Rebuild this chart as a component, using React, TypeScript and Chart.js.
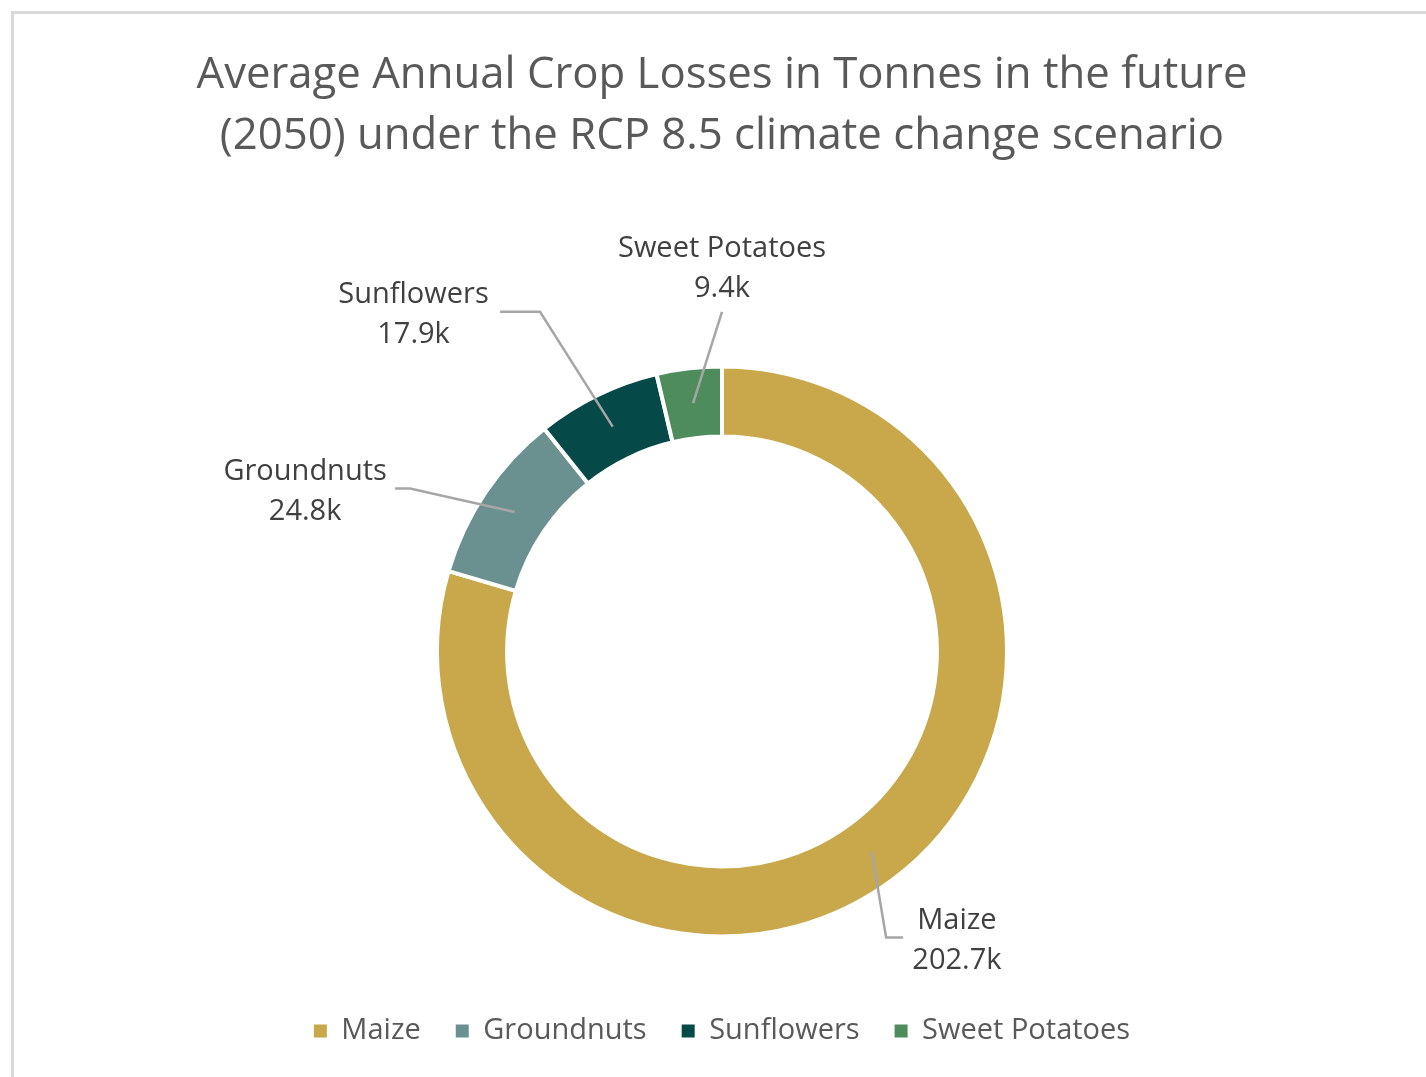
import React, { useEffect, useRef } from "react";
import { Chart, registerables } from "chart.js";

Chart.register(...registerables);

// ---- data ----
const categories = ["Maize", "Groundnuts", "Sunflowers", "Sweet Potatoes"];
const lossesK = [202.7, 24.8, 17.9, 9.4];
const valueLabels = ["202.7k", "24.8k", "17.9k", "9.4k"];
const sliceColors = ["#C8A84B", "#6A9190", "#054A49", "#4E8C5B"];
const titleLines = [
  "Average Annual Crop Losses in Tonnes in the future",
  "(2050) under the RCP 8.5 climate change scenario",
];

const FONT = "'Open Sans', 'Noto Sans', sans-serif";

// callout geometry, in units of the visible outer radius, relative to the doughnut centre
const callouts = [
  { elbow: [0.58, 1.011], tailX: 0.64, text: [0.83, 1.014] },
  { elbow: [-1.102, -0.576], tailX: -1.155, text: [-1.473, -0.572] },
  { elbow: [-0.643, -1.2], tailX: -0.784, text: [-1.09, -1.198] },
  { elbow: [0.0, -1.2], tailX: null, text: [0.0, -1.36] },
];

const BORDER = 4;

const calloutPlugin = {
  id: "callouts",
  afterDatasetsDraw(chart: any) {
    const meta = chart.getDatasetMeta(0);
    const ctx = chart.ctx;
    ctx.save();
    meta.data.forEach((arc: any, i: number) => {
      const p = arc.getProps(
        ["x", "y", "startAngle", "endAngle", "innerRadius", "outerRadius"],
        true
      );
      const mid = (p.startAngle + p.endAngle) / 2;
      const rm = (p.innerRadius + p.outerRadius) / 2;
      const sx = p.x + Math.cos(mid) * rm;
      const sy = p.y + Math.sin(mid) * rm;
      const R = p.outerRadius - BORDER / 2;
      const c = callouts[i];
      const ex = p.x + c.elbow[0] * R;
      const ey = p.y + c.elbow[1] * R;
      ctx.strokeStyle = "#A6A6A6";
      ctx.lineWidth = 2.5;
      ctx.lineJoin = "miter";
      ctx.beginPath();
      ctx.moveTo(sx, sy);
      ctx.lineTo(ex, ey);
      if (c.tailX !== null) ctx.lineTo(p.x + c.tailX * R, ey);
      ctx.stroke();

      const tx = p.x + c.text[0] * R;
      const ty = p.y + c.text[1] * R + 2.5;
      ctx.fillStyle = "#404040";
      ctx.font = `29px ${FONT}`;
      ctx.textAlign = "center";
      ctx.textBaseline = "middle";
      ctx.fillText(categories[i], tx, ty - 20);
      ctx.fillText(valueLabels[i], tx, ty + 20);
    });
    ctx.restore();
  },
};

export default function App() {
  const canvasRef = useRef<HTMLCanvasElement | null>(null);

  useEffect(() => {
    if (!canvasRef.current) return;
    const defaultLabels = (Chart as any).overrides.doughnut.plugins.legend.labels.generateLabels;
    const chart = new Chart(canvasRef.current, {
      type: "doughnut",
      data: {
        labels: categories,
        datasets: [
          {
            data: lossesK,
            backgroundColor: sliceColors,
            borderColor: "#FFFFFF",
            borderWidth: BORDER,
            radius: 285,
            cutout: "75.4%",
          },
        ],
      },
      options: {
        responsive: false,
        animation: false,
        devicePixelRatio: 1,
        layout: { padding: { top: 0, bottom: 21.5, left: 0, right: 0 } },
        plugins: {
          tooltip: { enabled: false },
          title: {
            display: true,
            text: titleLines,
            color: "#595959",
            font: { family: FONT, size: 43.7, weight: "normal", lineHeight: 1.395 },
            padding: { top: 45.5, bottom: 154 },
          },
          legend: {
            display: true,
            position: "bottom",
            labels: {
              boxWidth: 13,
              boxHeight: 13,
              padding: 35,
              color: "#595959",
              font: { family: FONT, size: 29 },
              generateLabels: (ch: any) =>
                defaultLabels(ch).map((l: any) => ({ ...l, lineWidth: 0, strokeStyle: "transparent" })),
            },
          },
        },
      },
      plugins: [calloutPlugin],
    });
    return () => chart.destroy();
  }, []);

  return (
    <div
      style={{
        position: "fixed",
        left: 0,
        top: 0,
        width: 1426,
        height: 1077,
        overflow: "hidden",
        background: "#FFFFFF",
      }}
    >
      <div
        style={{
          position: "absolute",
          left: 11,
          top: 11,
          width: 1500,
          height: 1200,
          border: "3px solid #D9D9D9",
          boxSizing: "border-box",
        }}
      />
      <canvas
        ref={canvasRef}
        width={1416}
        height={1077}
        style={{ position: "absolute", left: 14, top: 0, width: 1416, height: 1077 }}
      />
    </div>
  );
}
